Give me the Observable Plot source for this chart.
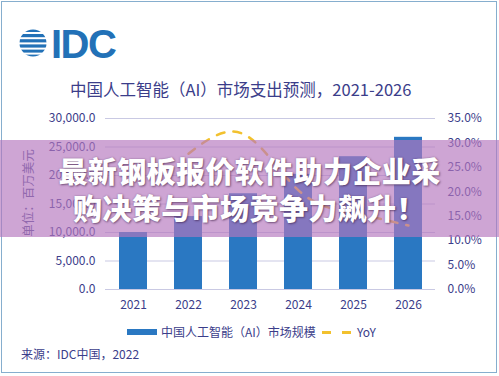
<!DOCTYPE html>
<html>
<head>
<meta charset="utf-8">
<script src="https://cdn.jsdelivr.net/npm/d3@7"></script>
<script src="https://cdn.jsdelivr.net/npm/@observablehq/plot@0.6"></script>
<style>
  html, body { margin:0; padding:0; background:#fff; }
  #wrap { position:relative; width:499px; height:376px; overflow:hidden; background:#fff;
          font-family:"Noto Sans CJK SC","Noto Sans",sans-serif; color:#3b3d8a; }
  #frame { position:absolute; left:1px; top:1px; width:494px; height:370px; border:1.5px solid #86aece; box-sizing:content-box; }
  #chart { position:absolute; left:0; top:0; }
  .abs { position:absolute; white-space:nowrap; }
  #band { position:absolute; left:0; top:140px; width:499px; height:97px; background:rgba(180,118,190,0.66);
          text-align:center; color:#fff; font-weight:900; font-size:29px; line-height:37px; padding-top:12px; box-sizing:border-box;
          text-shadow: 1px 1px 2px rgba(60,30,70,0.55), 0 0 2px rgba(60,30,70,0.35); letter-spacing:0.4px; }
</style>
</head>
<body>
<div id="wrap">
  <div id="frame"></div>
  <svg class="abs" style="left:18px;top:22px" width="130" height="44" viewBox="0 -4 130 44">
    <defs><clipPath id="gc"><circle cx="15" cy="17" r="13.5"/></clipPath></defs>
    <g clip-path="url(#gc)" fill="#2271b7">
      <rect x="0" y="3" width="30" height="3"/>
      <rect x="0" y="8" width="30" height="3.2"/>
      <rect x="0" y="13.2" width="30" height="3.2"/>
      <rect x="0" y="18.4" width="30" height="3.2"/>
      <rect x="0" y="23.6" width="30" height="3"/>
      <rect x="0" y="28.6" width="30" height="3"/>
    </g>
    <text x="33" y="32" font-family="Liberation Sans, Arial, sans-serif" font-weight="700" font-size="40" fill="#2271b7" letter-spacing="-1.5">IDC</text>
  </svg>
  <div class="abs" style="left:70px;top:77px;font-size:16.5px;color:#3b3d8a;">中国人工智能（AI）市场支出预测，2021-2026</div>
  <div id="chart"></div>
  <div class="abs" style="left:27px;top:193px;font-size:12.5px;color:#4a4c8e;transform:translate(-50%,-50%) rotate(-90deg);">单位：百万美元</div>
  <div class="abs" style="left:127px;top:329px;width:30px;height:6px;background:#2a78c2;"></div>
  <div class="abs" style="left:161px;top:323px;font-size:12px;line-height:18px;color:#3b3d8a;">中国人工智能（AI）市场规模</div>
  <div class="abs" style="left:322px;top:331px;width:9px;height:3px;background:#f2c12e;"></div>
  <div class="abs" style="left:342px;top:331px;width:9px;height:3px;background:#f2c12e;"></div>
  <div class="abs" style="left:357px;top:323px;font-size:12px;line-height:18px;color:#3b3d8a;">YoY</div>
  <div class="abs" style="left:21px;top:345px;font-size:12px;line-height:18px;color:#3b3d8a;">来源：IDC中国，2022</div>
  <div id="band">最新钢板报价软件助力企业采<br>购决策与市场竞争力飙升！</div>
</div>
<script>
const years = ["2021", "2022", "2023", "2024", "2025", "2026"];
const spending = [10000, 12800, 16800, 20200, 23300, 26700];
const yoy = [null, 27.8, 31.8, 20.3, 15.6, 13.1];
const leftTicks = [0, 5000, 10000, 15000, 20000, 25000, 30000];
const rightTicks = [0, 5, 10, 15, 20, 25, 30, 35];

const yMax = 30000, pMax = 35;
const k = yMax / pMax;
const bars = years.map((y, i) => ({year: y, value: spending[i]}));
const lineData = years.map((y, i) => ({year: y, yoy: yoy[i]})).filter(d => d.yoy != null);

const chart = Plot.plot({
  width: 499, height: 376,
  marginTop: 118, marginBottom: 87, marginLeft: 105, marginRight: 64,
  style: {fontFamily: '"Noto Sans CJK SC","Noto Sans",sans-serif', fontSize: "12px", color: "#3b3d8a", background: "transparent", overflow: "visible"},
  x: {domain: years, paddingInner: 0.5, paddingOuter: 0.25, label: null},
  y: {domain: [0, yMax], label: null},
  marks: [
    Plot.gridY(leftTicks, {stroke: "#c9c9e3", strokeOpacity: 1, strokeWidth: 1.2}),
    Plot.axisY(leftTicks, {anchor: "left", tickSize: 0, tickPadding: 10, label: null, tickFormat: d => d3.format(",.1f")(d)}),
    Plot.axisY(rightTicks.map(p => p * k), {anchor: "right", tickSize: 0, tickPadding: 12, label: null, tickFormat: d => (d / k).toFixed(1) + "%"}),
    Plot.axisX({tickSize: 0, tickPadding: 11, label: null}),
    Plot.barY(bars, {x: "year", y: "value", fill: "#2a78c2"}),
    Plot.line(lineData, {x: "year", y: d => d.yoy * k, stroke: "#f2c12e", strokeWidth: 2.5, strokeDasharray: "8,9", curve: "natural"})
  ]
});
document.getElementById("chart").appendChild(chart);
</script>
</body>
</html>
